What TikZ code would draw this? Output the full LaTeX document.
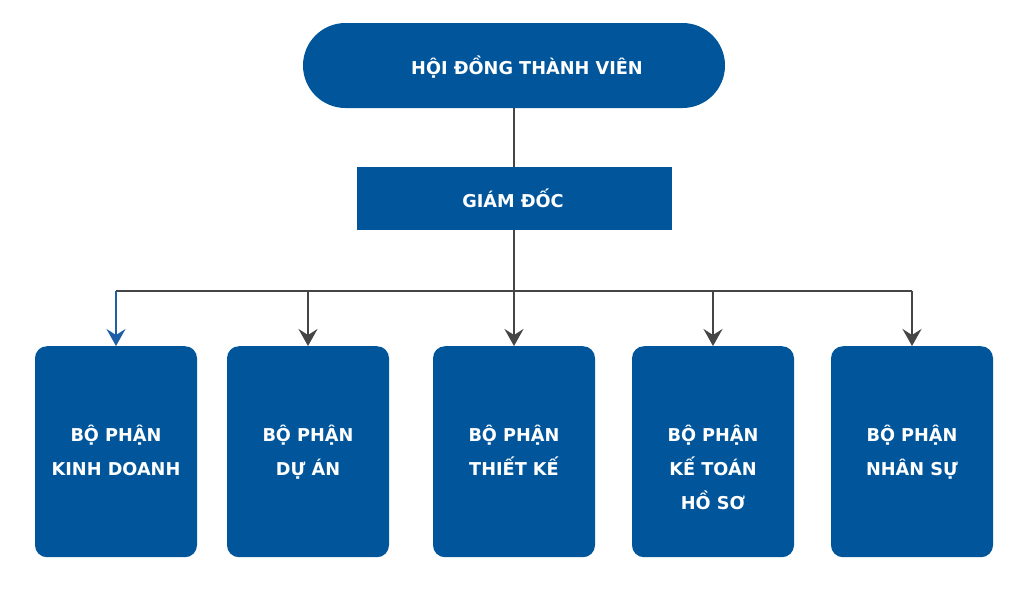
\documentclass[tikz,border=0pt]{standalone}
\usepackage{fontspec}
\setmainfont{DejaVu Sans}
\usetikzlibrary{arrows.meta}
\definecolor{mainblue}{HTML}{00559B}
\definecolor{arrowblue}{HTML}{1F5FA8}
\definecolor{linegray}{HTML}{454545}
\begin{document}
\begin{tikzpicture}[x=1pt,y=-1pt,
  lbl/.style={text=white, font=\bfseries\fontsize{17.7}{34}\selectfont, align=center, inner sep=0pt},
  deptbox/.style={fill=mainblue, rounded corners=12pt, minimum width=162pt, minimum height=211pt, inner sep=0pt, anchor=north},
  conn/.style={draw=linegray, line width=2.2pt},
  arr/.style={conn, -{Stealth[length=17pt,width=19pt,inset=6pt]}},
  arrb/.style={arr, draw=arrowblue, fill=arrowblue}]
\useasboundingbox (0,0) rectangle (1024,603);
% top
\node[fill=mainblue, rounded corners=42.5pt, minimum width=422pt, minimum height=85pt, inner sep=0pt] (hdtv) at (514,65.5) {};
\node[lbl] (hdtvt) at (527,67) {HỘI ĐỒNG THÀNH VIÊN};
\node[fill=mainblue, minimum width=315pt, minimum height=63pt, inner sep=0pt] (gd) at (514,198.5) {};
\node[lbl] (gdt) at (513,198) {GIÁM ĐỐC};
% departments
\node[deptbox] (d1) at (116,346) {};
\node[deptbox] (d2) at (308,346) {};
\node[deptbox] (d3) at (514,346) {};
\node[deptbox] (d4) at (713,346) {};
\node[deptbox] (d5) at (912,346) {};
\node[lbl, anchor=north] (t1) at ([yshift=-79pt]d1.north) {BỘ PHẬN\\KINH DOANH};
\node[lbl, anchor=north] (t2) at ([yshift=-79pt]d2.north) {BỘ PHẬN\\DỰ ÁN};
\node[lbl, anchor=north] (t3) at ([yshift=-79pt]d3.north) {BỘ PHẬN\\THIẾT KẾ};
\node[lbl, anchor=north] (t4) at ([yshift=-79pt]d4.north) {BỘ PHẬN\\KẾ TOÁN\\HỒ SƠ};
\node[lbl, anchor=north] (t5) at ([yshift=-79pt]d5.north) {BỘ PHẬN\\NHÂN SỰ};
% connectors
\coordinate (bus) at (514,291);
\draw[conn] (hdtv.south) -- (gd.north);
\draw[conn] (gd.south) -- (bus);
\draw[conn] (d1.north |- bus) -- (d5.north |- bus);
\draw[arrb] (d1.north |- bus) -- (d1.north);
\draw[arr] (d2.north |- bus) -- (d2.north);
\draw[arr] (d3.north |- bus) -- (d3.north);
\draw[arr] (d4.north |- bus) -- (d4.north);
\draw[arr] (d5.north |- bus) -- (d5.north);
\end{tikzpicture}
\end{document}
